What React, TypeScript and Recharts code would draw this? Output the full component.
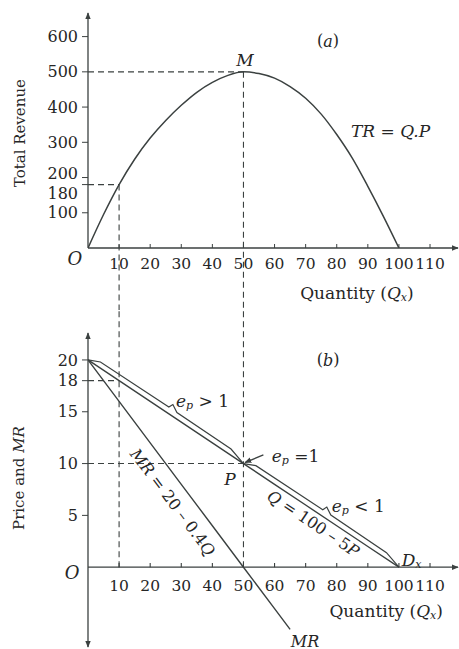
import React from "react";
import {
  ComposedChart,
  Line,
  XAxis,
  YAxis,
  ReferenceLine,
  ReferenceDot,
} from "recharts";

const INK = "#3b4140";
const TEXT = "#262626";
const FONT = "'DejaVu Serif', serif";

const Q_MAX = 119;
const TR_MAX = 667;
const P_MIN = -7.7;
const P_MAX = 22.6;

// shared quantity ticks
const qTicks = [10, 20, 30, 40, 50, 60, 70, 80, 90, 100, 110];
const trTicks = [100, 180, 200, 300, 400, 500, 600];
const priceTicks = [5, 10, 15, 18, 20];

// (a) total revenue
const trQ = [0, 5, 10, 15, 20, 25, 30, 35, 40, 45, 50, 55, 60, 65, 70, 75, 80, 85, 90, 95, 100];
const trValues = [0, 95, 180, 252, 312, 362, 405, 442, 470, 490, 500, 495, 482, 458, 425, 380, 322, 255, 175, 90, 0];

// (b) demand Q = 100 - 5P
const demandQ = [0, 10, 20, 30, 40, 50, 60, 70, 80, 90, 100];
const demandP = [20, 18, 16, 14, 12, 10, 8, 6, 4, 2, 0];

// marginal revenue
const mrQ = [0, 10, 20, 30, 40, 50, 60, 65];
const mrValues = [20, 16, 12, 8, 4, 0, -4, -6];

// braces marking the elastic / inelastic stretches of demand
const elasticBraceQ = [0, 4, 26, 27.3, 28.6, 46, 50];
const elasticBraceP = [20, 19.8, 15.45, 15.7, 14.93, 11.4, 10];
const inelasticBraceQ = [50, 54, 75.5, 76.8, 78.1, 96, 100];
const inelasticBraceP = [10, 9.8, 5.55, 5.8, 5.03, 1.4, 0];

const pts = (qs: number[], vs: number[]) => qs.map((q, i) => ({ q, v: vs[i] }));

const trData = pts(trQ, trValues);
const demandData = pts(demandQ, demandP);
const mrData = pts(mrQ, mrValues);
const elasticBrace = pts(elasticBraceQ, elasticBraceP);
const inelasticBrace = pts(inelasticBraceQ, inelasticBraceP);

const X_TICK_SIZE = 15.5;
const Y_TICK_SIZE = 16;
const dashed = { stroke: INK, strokeWidth: 1.1, strokeDasharray: "6 4" };
const axisLineProps = { stroke: INK, strokeWidth: 1.3 };

const I = ({ children }: { children: React.ReactNode }) => (
  <tspan fontStyle="italic">{children}</tspan>
);
const Sub = ({ children }: { children: React.ReactNode }) => (
  <tspan fontSize={11} fontStyle="italic" dy={4}>
    {children}
  </tspan>
);

type NoteOpts = { size?: number; anchor?: "start" | "middle" | "end"; angle?: number };

// free text pinned to a data position
const note = (key: string, q: number, v: number, body: React.ReactNode, opts: NoteOpts = {}) => (
  <ReferenceDot
    key={key}
    x={q}
    y={v}
    r={0}
    fill="none"
    stroke="none"
    ifOverflow="visible"
    label={(p: any) => {
      const { x, y } = p.viewBox;
      return (
        <text
          x={x}
          y={y}
          fill={TEXT}
          fontSize={opts.size ?? 16}
          fontFamily={FONT}
          textAnchor={opts.anchor ?? "middle"}
          dominantBaseline="central"
          transform={opts.angle ? `rotate(${opts.angle} ${x} ${y})` : undefined}
        >
          {body}
        </text>
      );
    }}
  />
);

// 180 and 200 sit close together, spread their labels apart
const trTickNudge: Record<number, number> = { 180: 9, 200: -4 };
const TrTick = ({ x, y, payload }: any) => (
  <text
    x={x}
    y={y + (trTickNudge[payload.value] ?? 0)}
    textAnchor="end"
    dominantBaseline="central"
    fill={TEXT}
    fontSize={Y_TICK_SIZE}
    fontFamily={FONT}
  >
    {payload.value}
  </text>
);

const quantityTitle = (
  <>
    Quantity (<I>Q</I>
    <Sub>x</Sub>
    <tspan dy={-4}>)</tspan>
  </>
);

const elasticity = (rest: string) => (
  <>
    <I>e</I>
    <Sub>p</Sub>
    <tspan dy={-4}>{rest}</tspan>
  </>
);

const RevenuePanel = () => (
  <ComposedChart width={459} height={310} margin={{ top: 13, right: 1, bottom: 32, left: 48 }}>
    <XAxis
      type="number"
      dataKey="q"
      domain={[0, Q_MAX]}
      ticks={qTicks}
      interval={0}
      allowDataOverflow
      axisLine={false}
      tickSize={-4}
      tickMargin={14}
      tickLine={{ stroke: INK }}
      tick={{ fill: TEXT, fontSize: X_TICK_SIZE, fontFamily: FONT }}
      height={30}
    />
    <YAxis
      type="number"
      domain={[0, TR_MAX]}
      ticks={trTicks}
      interval={0}
      allowDataOverflow
      axisLine={false}
      tickSize={6}
      tickMargin={4}
      tickLine={{ stroke: INK }}
      tick={<TrTick />}
      width={40}
    />
    <ReferenceLine segment={[{ x: 0, y: 0 }, { x: Q_MAX, y: 0 }]} {...axisLineProps} markerEnd="url(#arrowhead)" ifOverflow="visible" />
    <ReferenceLine segment={[{ x: 0, y: 0 }, { x: 0, y: TR_MAX }]} {...axisLineProps} markerEnd="url(#arrowhead)" ifOverflow="visible" />

    <ReferenceLine segment={[{ x: 0, y: 500 }, { x: 50, y: 500 }]} {...dashed} />
    <ReferenceLine segment={[{ x: 0, y: 180 }, { x: 10, y: 180 }]} {...dashed} />
    <ReferenceLine segment={[{ x: 10, y: 180 }, { x: 10, y: -180 }]} {...dashed} ifOverflow="visible" />
    <ReferenceLine segment={[{ x: 50, y: 500 }, { x: 50, y: -180 }]} {...dashed} ifOverflow="visible" />

    <Line data={trData} dataKey="v" type="monotone" stroke={INK} strokeWidth={1.5} dot={false} isAnimationActive={false} />

    {note("a-tag", 77.2, 588, <>(<I>a</I>)</>)}
    {note("peak", 50.5, 534, <I>M</I>, { size: 17 })}
    {note("tr-eq", 97.3, 331, <I>TR = Q.P</I>, { size: 17 })}
    {note("origin-a", -4.2, -28, <I>O</I>, { size: 18 })}
    {note("tr-title", -21.9, 326, "Total Revenue", { angle: -90, size: 15 })}
    {note("qty-a", 86.5, -128, quantityTitle, { size: 17 })}
  </ComposedChart>
);

const DemandPanel = () => (
  <ComposedChart width={459} height={339} margin={{ top: 23, right: 1, bottom: 2, left: 48 }}>
    <XAxis type="number" dataKey="q" domain={[0, Q_MAX]} hide allowDataOverflow />
    <YAxis
      type="number"
      domain={[P_MIN, P_MAX]}
      ticks={priceTicks}
      interval={0}
      allowDataOverflow
      axisLine={false}
      tickSize={6}
      tickMargin={4}
      tickLine={{ stroke: INK }}
      tick={{ fill: TEXT, fontSize: Y_TICK_SIZE, fontFamily: FONT }}
      width={40}
    />
    <ReferenceLine segment={[{ x: 0, y: 0 }, { x: Q_MAX, y: 0 }]} {...axisLineProps} markerEnd="url(#arrowhead)" ifOverflow="visible" />
    <ReferenceLine
      segment={[{ x: 0, y: P_MIN }, { x: 0, y: P_MAX }]}
      {...axisLineProps}
      markerStart="url(#arrowhead)"
      markerEnd="url(#arrowhead)"
      ifOverflow="visible"
    />
    {qTicks.map((q) => (
      <ReferenceLine
        key={`qt-${q}`}
        segment={[{ x: q, y: 0 }, { x: q, y: 0.4 }]}
        stroke={INK}
        strokeWidth={1.1}
        label={{ value: q, position: "bottom", offset: 13, fill: TEXT, fontSize: X_TICK_SIZE, fontFamily: FONT }}
      />
    ))}

    <ReferenceLine segment={[{ x: 0, y: 10 }, { x: 50, y: 10 }]} {...dashed} />
    <ReferenceLine segment={[{ x: 0, y: 18 }, { x: 10, y: 18 }]} {...dashed} />
    <ReferenceLine segment={[{ x: 10, y: 0 }, { x: 10, y: 25 }]} {...dashed} ifOverflow="visible" />
    <ReferenceLine segment={[{ x: 50, y: 0 }, { x: 50, y: 25 }]} {...dashed} ifOverflow="visible" />

    <Line data={demandData} dataKey="v" type="linear" stroke={INK} strokeWidth={1.4} dot={false} isAnimationActive={false} />
    <Line data={elasticBrace} dataKey="v" type="linear" stroke={INK} strokeWidth={1.2} dot={false} isAnimationActive={false} />
    <Line data={inelasticBrace} dataKey="v" type="linear" stroke={INK} strokeWidth={1.2} dot={false} isAnimationActive={false} />
    <Line data={mrData} dataKey="v" type="linear" stroke={INK} strokeWidth={1.4} dot={false} isAnimationActive={false} />

    <ReferenceLine
      segment={[{ x: 56.4, y: 10.84 }, { x: 50.5, y: 10.1 }]}
      stroke={INK}
      strokeWidth={1.3}
      markerEnd="url(#arrowhead)"
    />

    {note("b-tag", 77.2, 20, <>(<I>b</I>)</>)}
    {note("ep-gt", 28.3, 16.0, elasticity(" > 1"), { anchor: "start", size: 17 })}
    {note("ep-eq", 59.1, 10.7, elasticity(" =1"), { anchor: "start", size: 17 })}
    {note("point-p", 45.7, 8.5, <I>P</I>, { size: 17 })}
    {note("ep-lt", 78.4, 5.9, elasticity(" < 1"), { anchor: "start", size: 17 })}
    {note("demand-eq", 72.5, 4.24, <><I>Q</I> = 100 – 5<I>P</I></>, { angle: 33.7 })}
    {note("mr-eq", 27.3, 6.29, <><I>MR</I> = 20 – 0.4<I>Q</I></>, { angle: 53.1 })}
    {note("dx", 100.9, 0.7, <><I>D</I><Sub>x</Sub></>, { anchor: "start", size: 17 })}
    {note("mr-end", 69.8, -7.1, <I>MR</I>)}
    {note("origin-b", -5.1, -0.46, <I>O</I>, { size: 18 })}
    {note("p-title", -22.2, 8.6, <>Price and <I>MR</I></>, { angle: -90, size: 15 })}
    {note("qty-b", 95.9, -4.2, quantityTitle, { size: 17 })}
  </ComposedChart>
);

export default function App() {
  return (
    <div
      style={{
        position: "absolute",
        left: 0,
        top: 0,
        width: 459,
        height: 649,
        background: "#fff",
        fontFamily: FONT,
        overflow: "hidden",
      }}
    >
      <svg width={0} height={0} style={{ position: "absolute" }}>
        <defs>
          <marker
            id="arrowhead"
            viewBox="0 0 10 10"
            refX="9"
            refY="5"
            markerWidth="7"
            markerHeight="7"
            markerUnits="userSpaceOnUse"
            orient="auto-start-reverse"
          >
            <path d="M0,1 L10,5 L0,9 z" fill={INK} />
          </marker>
        </defs>
      </svg>
      <div style={{ position: "absolute", left: 0, top: 0 }}>
        <RevenuePanel />
      </div>
      <div style={{ position: "absolute", left: 0, top: 310 }}>
        <DemandPanel />
      </div>
    </div>
  );
}
